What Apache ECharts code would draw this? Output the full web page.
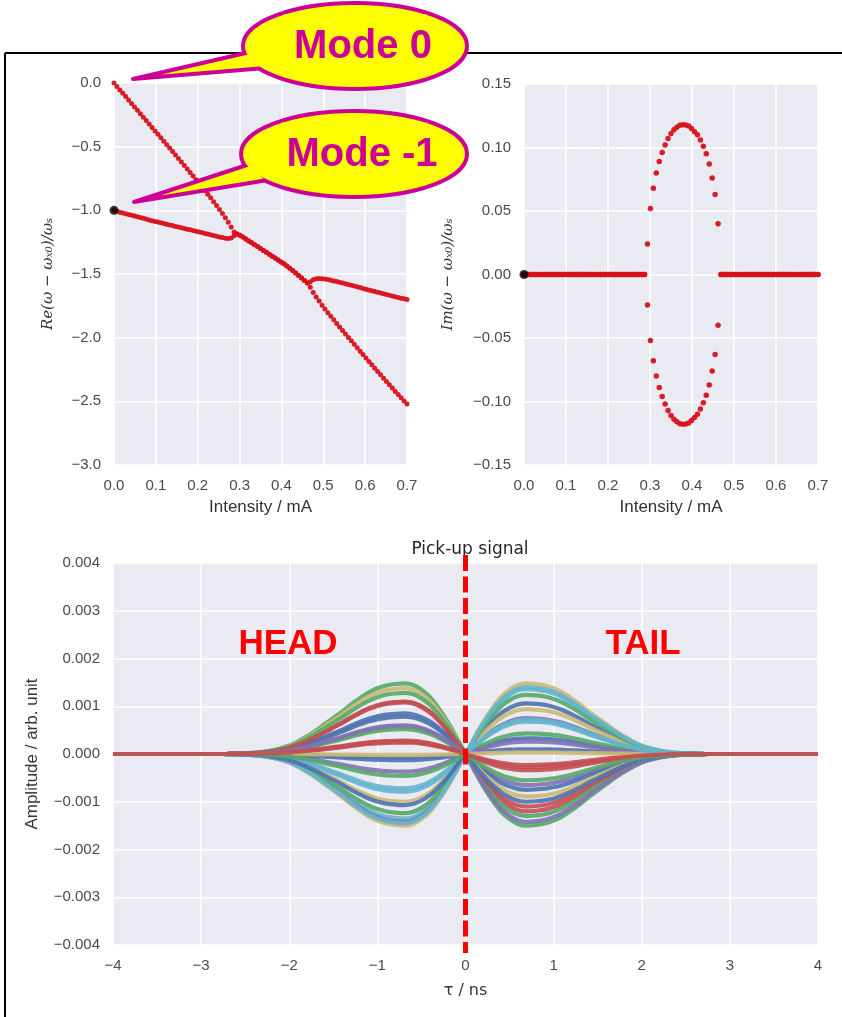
<!DOCTYPE html>
<html>
<head>
<meta charset="utf-8">
<script src="https://cdn.jsdelivr.net/npm/echarts@6/dist/echarts.min.js"></script>
<style>
html,body{margin:0;padding:0;background:#ffffff;}
#chart{width:842px;height:1017px;}
</style>
</head>
<body>
<div id="chart"></div>
<script>
// ---------------- DATA ----------------
const intensity = [0.000,0.007,0.014,0.021,0.028,0.035,0.042,0.049,0.056,0.063,
  0.070,0.077,0.084,0.091,0.098,0.105,0.112,0.119,0.126,0.133,
  0.140,0.147,0.154,0.161,0.168,0.175,0.182,0.189,0.196,0.203,
  0.210,0.217,0.224,0.231,0.238,0.245,0.252,0.259,0.266,0.273,
  0.280,0.287,0.294,0.301,0.308,0.315,0.322,0.329,0.336,0.343,
  0.350,0.357,0.364,0.371,0.378,0.385,0.392,0.399,0.406,0.413,
  0.420,0.427,0.434,0.441,0.448,0.455,0.462,0.469,0.476,0.483,
  0.490,0.497,0.504,0.511,0.518,0.525,0.532,0.539,0.546,0.553,
  0.560,0.567,0.574,0.581,0.588,0.595,0.602,0.609,0.616,0.623,
  0.630,0.637,0.644,0.651,0.658,0.665,0.672,0.679,0.686,0.693,0.700];

// Re((w - wx0)/ws) : mode starting at 0
const reModeA = [0.000,-0.027,-0.054,-0.081,-0.107,-0.134,-0.161,-0.188,-0.214,-0.241,
  -0.268,-0.295,-0.322,-0.349,-0.376,-0.403,-0.430,-0.457,-0.484,-0.511,
  -0.538,-0.566,-0.593,-0.620,-0.648,-0.675,-0.703,-0.731,-0.759,-0.787,
  -0.815,-0.844,-0.873,-0.902,-0.932,-0.962,-0.993,-1.025,-1.058,-1.093,
  -1.130,-1.170,-1.185,-1.195,-1.210,-1.225,-1.240,-1.255,-1.270,-1.285,
  -1.300,-1.315,-1.330,-1.345,-1.360,-1.375,-1.390,-1.405,-1.420,-1.437,
  -1.455,-1.473,-1.492,-1.512,-1.532,-1.552,-1.570,-1.605,-1.645,-1.680,
  -1.713,-1.745,-1.775,-1.804,-1.832,-1.860,-1.888,-1.916,-1.944,-1.971,
  -1.998,-2.025,-2.052,-2.079,-2.106,-2.133,-2.160,-2.187,-2.213,-2.240,
  -2.266,-2.292,-2.318,-2.344,-2.370,-2.396,-2.422,-2.447,-2.472,-2.497,-2.520];

// Re((w - wx0)/ws) : mode starting at -1
const reModeB = [-1.000,-1.008,-1.015,-1.021,-1.027,-1.033,-1.039,-1.045,-1.051,-1.057,
  -1.063,-1.069,-1.075,-1.081,-1.087,-1.092,-1.098,-1.104,-1.109,-1.115,
  -1.120,-1.126,-1.131,-1.137,-1.142,-1.148,-1.153,-1.159,-1.164,-1.170,
  -1.175,-1.181,-1.186,-1.192,-1.198,-1.203,-1.209,-1.214,-1.219,-1.222,
  -1.218,-1.200,-1.185,-1.195,-1.210,-1.225,-1.240,-1.255,-1.270,-1.285,
  -1.300,-1.315,-1.330,-1.345,-1.360,-1.375,-1.390,-1.405,-1.420,-1.437,
  -1.455,-1.473,-1.492,-1.512,-1.532,-1.552,-1.570,-1.560,-1.545,-1.538,
  -1.536,-1.537,-1.540,-1.544,-1.549,-1.554,-1.559,-1.565,-1.571,-1.577,
  -1.583,-1.589,-1.595,-1.601,-1.607,-1.613,-1.619,-1.625,-1.631,-1.637,
  -1.643,-1.649,-1.655,-1.661,-1.667,-1.673,-1.679,-1.685,-1.690,-1.695,-1.700];

// Im((w - wx0)/ws)
const imUpper = [0,0,0,0,0,0,0,0,0,0, 0,0,0,0,0,0,0,0,0,0, 0,0,0,0,0,0,0,0,0,0, 0,0,0,0,0,0,0,0,0,0,
  0,0,0.024,0.052,0.068,0.080,0.089,0.096,0.102,0.107,
  0.111,0.114,0.116,0.1175,0.118,0.1178,0.117,0.115,0.1125,0.110,
  0.106,0.101,0.095,0.087,0.076,0.063,0.040,0,0,0,
  0,0,0,0,0,0,0,0,0,0, 0,0,0,0,0,0,0,0,0,0, 0,0,0,0,0,0,0,0,0,0, 0];
const imLower = [0,0,0,0,0,0,0,0,0,0, 0,0,0,0,0,0,0,0,0,0, 0,0,0,0,0,0,0,0,0,0, 0,0,0,0,0,0,0,0,0,0,
  0,0,-0.024,-0.052,-0.068,-0.080,-0.089,-0.096,-0.102,-0.107,
  -0.111,-0.114,-0.116,-0.1175,-0.118,-0.1178,-0.117,-0.115,-0.1125,-0.110,
  -0.106,-0.101,-0.095,-0.087,-0.076,-0.063,-0.040,0,0,0,
  0,0,0,0,0,0,0,0,0,0, 0,0,0,0,0,0,0,0,0,0, 0,0,0,0,0,0,0,0,0,0, 0];

// Pick-up signal
const tau = [-4.0,-3.9,-3.8,-3.7,-3.6,-3.5,-3.4,-3.3,-3.2,-3.1,
  -3.0,-2.9,-2.8,-2.7,-2.6,-2.5,-2.4,-2.3,-2.2,-2.1,
  -2.0,-1.9,-1.8,-1.7,-1.6,-1.5,-1.4,-1.3,-1.2,-1.1,
  -1.0,-0.9,-0.8,-0.7,-0.6,-0.5,-0.4,-0.3,-0.2,-0.1,
  0.0,0.1,0.2,0.3,0.4,0.5,0.6,0.7,0.8,0.9,
  1.0,1.1,1.2,1.3,1.4,1.5,1.6,1.7,1.8,1.9,
  2.0,2.1,2.2,2.3,2.4,2.5,2.6,2.7,2.8,2.9,
  3.0,3.1,3.2,3.3,3.4,3.5,3.6,3.7,3.8,3.9,4.0];
// relative lobe shape read at |tau| = 0.0, 0.1, ... 4.0 (peak = 1 at 0.7 ns)
const lobeProfile = [0,0.23,0.45,0.64,0.80,0.91,0.98,1.00,0.99,0.97,
  0.93,0.87,0.79,0.70,0.60,0.51,0.42,0.33,0.25,0.18,
  0.12,0.08,0.05,0.03,0.017,0.008,0.004,0.001,0,0,
  0,0,0,0,0,0,0,0,0,0,0];
// amplitude at the head (tau<0) and tail (tau>0) lobe peaks of each trace
const headAmp = [0.00085,0.00148,0.00110,0.00057,0.00138,-0.00135,0.00078,0.00128,0.00026,-0.00037,
  -0.00100,-0.00072,-0.00007,0.00052,0.00108,-0.00142,-0.00150,-0.00079,-0.00013,-0.00124,
  0.00024,0.00060,-0.00002,-0.00145,-0.00107,-0.00046,0.00028];
const tailAmp = [0.00106,-0.00150,-0.00120,0.00075,0.00148,0.00136,0.00033,-0.00130,-0.00034,-0.00065,
  0.00094,0.00068,-0.00075,0.00124,-0.00110,-0.00142,-0.00089,0.00140,0.00010,0.00043,
  -0.00023,0.00026,0.00003,0.00072,-0.00100,-0.00055,-0.00028];

const palette = ['#4C72B0','#55A868','#C44E52','#8172B2','#CCB974','#64B5CD'];

// ---------------- CHART ----------------
const SANS = '"Liberation Sans", Arial, sans-serif';
const DJV = '"DejaVu Sans", sans-serif';
const SERIF = '"DejaVu Serif", serif';
const TICK = '#4a4a4a';
const NAME = '#333333';
const RED = '#d8111b';

function fmt(d){ return function(v){ return (v < 0 ? '\u2212' : '') + Math.abs(v).toFixed(d); }; }

function xAx(gi, min, max, interval, dec, name, nameGap, nameFont, labelFont, labelSize){
  return {
    type:'value', gridIndex: gi, min:min, max:max, interval:interval,
    axisLine:{show:false}, axisTick:{show:false},
    splitLine:{show:true, lineStyle:{color:'#ffffff', width:1.5}},
    axisLabel:{color:TICK, fontFamily:labelFont, fontSize:labelSize, margin:13, formatter: fmt(dec)},
    name:name, nameLocation:'middle', nameGap:nameGap,
    nameTextStyle: nameFont
  };
}
function yAx(gi, min, max, interval, dec, name, nameGap, nameFont, labelFont, labelSize){
  return {
    type:'value', gridIndex: gi, min:min, max:max, interval:interval,
    axisLine:{show:false}, axisTick:{show:false},
    splitLine:{show:true, lineStyle:{color:'#ffffff', width:1.5}},
    axisLabel:{color:TICK, fontFamily:labelFont, fontSize:labelSize, margin:13, formatter: fmt(dec)},
    name:name, nameLocation:'middle', nameGap:nameGap, nameRotate:90,
    nameTextStyle: nameFont
  };
}

const nameSans = {color:NAME, fontFamily:SANS, fontSize:17};
const nameMath = {color:NAME, fontFamily:SERIF, fontStyle:'italic', fontSize:15};

const series = [];
function pairs(xs, ys){ return xs.map((x,i)=>[x, ys[i]]); }
const dotStyle = {color:RED, opacity:0.95};

series.push({type:'scatter', xAxisIndex:0, yAxisIndex:0, data:pairs(intensity, reModeA), symbolSize:5, itemStyle:dotStyle, z:3});
series.push({type:'scatter', xAxisIndex:0, yAxisIndex:0, data:pairs(intensity, reModeB), symbolSize:5, itemStyle:dotStyle, z:3});
series.push({type:'scatter', xAxisIndex:0, yAxisIndex:0, data:[[intensity[0], reModeB[0]]], symbolSize:9, itemStyle:{color:'#000'}, z:4});
series.push({type:'scatter', xAxisIndex:1, yAxisIndex:1, data:pairs(intensity, imUpper), symbolSize:5.5, itemStyle:dotStyle, z:3});
series.push({type:'scatter', xAxisIndex:1, yAxisIndex:1, data:pairs(intensity, imLower), symbolSize:5.5, itemStyle:dotStyle, z:3});
series.push({type:'scatter', xAxisIndex:1, yAxisIndex:1, data:[[intensity[0], imUpper[0]]], symbolSize:9, itemStyle:{color:'#000'}, z:4});

const mid = tau.indexOf(0);
headAmp.forEach((h, i) => {
  const t = tailAmp[i];
  const data = tau.map((x, j) => [x, (x < 0 ? h : t) * lobeProfile[Math.abs(j - mid)]]);
  series.push({
    type:'line', xAxisIndex:2, yAxisIndex:2, data:data, showSymbol:false, smooth:0.3,
    lineStyle:{color:palette[i % palette.length], width:4.2, opacity:0.9},
    itemStyle:{color:palette[i % palette.length]}, z:2
  });
});

const chart = echarts.init(document.getElementById('chart'), null, {renderer:'canvas'});
const option = {
  animation:false,
  backgroundColor:'#ffffff',
  title:{
    text:'Pick-up signal', left:465, top:536, textAlign:'center',
    textStyle:{color:'#262626', fontFamily:DJV, fontSize:17, fontWeight:'normal'}
  },
  grid:[
    {left:114, top:83, width:293, height:382, show:true, backgroundColor:'#EAEAF2', borderWidth:0, containLabel:false, outerBoundsMode:'none'},
    {left:524, top:84, width:294, height:381, show:true, backgroundColor:'#EAEAF2', borderWidth:0, containLabel:false, outerBoundsMode:'none'},
    {left:113, top:563, width:705, height:382, show:true, backgroundColor:'#EAEAF2', borderWidth:0, containLabel:false, outerBoundsMode:'none'}
  ],
  xAxis:[
    xAx(0, 0, 0.7, 0.1, 1, 'Intensity / mA', 34, nameSans, SANS, 15),
    xAx(1, 0, 0.7, 0.1, 1, 'Intensity / mA', 34, nameSans, SANS, 15),
    xAx(2, -4, 4, 1, 0, '\u03C4 / ns', 38, {color:NAME, fontFamily:DJV, fontSize:16}, SANS, 15)
  ],
  yAxis:[
    yAx(0, -3, 0, 0.5, 1, 'Re(\u03C9 \u2212 \u03C9\u2093\u2080)/\u03C9\u209B', 58, nameMath, SANS, 15),
    yAx(1, -0.15, 0.15, 0.05, 2, 'Im(\u03C9 \u2212 \u03C9\u2093\u2080)/\u03C9\u209B', 68, nameMath, SANS, 15),
    yAx(2, -0.004, 0.004, 0.001, 3, 'Amplitude / arb. unit', 72, nameSans, SANS, 15)
  ],
  series: series
};
chart.setOption(option);

// annotations
const MAG = '#cc0099';
const YEL = '#ffff00';
const x0 = chart.convertToPixel({xAxisIndex:2}, 0);
const yTop = chart.convertToPixel({yAxisIndex:2}, 0.004);
const yBot = chart.convertToPixel({yAxisIndex:2}, -0.004);

function callout(cx, cy, rx, ry, poly, label){
  return [
    {type:'ellipse', shape:{cx:cx, cy:cy, rx:rx, ry:ry}, style:{fill:YEL, stroke:MAG, lineWidth:8}, z:100},
    {type:'polygon', shape:{points:poly}, style:{fill:YEL, stroke:MAG, lineWidth:4, lineJoin:'round'}, z:101},
    {type:'ellipse', shape:{cx:cx, cy:cy, rx:rx, ry:ry}, style:{fill:YEL, stroke:null}, z:102},
    {type:'text', x:cx + 8, y:cy + 1, style:{text:label, fill:MAG, font:'bold 40px "Liberation Sans", Arial, sans-serif', textAlign:'center', textVerticalAlign:'middle'}, z:103}
  ];
}

chart.setOption({
  graphic:[
    {type:'line', shape:{x1:5, y1:53, x2:842, y2:53}, style:{stroke:'#000', lineWidth:2}, z:50},
    {type:'line', shape:{x1:5, y1:53, x2:5, y2:1017}, style:{stroke:'#000', lineWidth:2}, z:50},
    ...callout(355, 46, 110, 41, [[250,52],[133,79],[265,68]], 'Mode 0'),
    ...callout(354, 154, 111, 41, [[250,164],[134,202],[268,180]], 'Mode -1'),
    {type:'line', shape:{x1:x0, y1:yTop - 8, x2:x0, y2:yBot + 8}, style:{stroke:'#ff0000', lineWidth:5, lineDash:[16,5.5]}, z:60},
    {type:'text', x:288, y:644, style:{text:'HEAD', fill:'#ff0000', font:'bold 35px "Liberation Sans", Arial, sans-serif', textAlign:'center', textVerticalAlign:'middle'}, z:60},
    {type:'text', x:643, y:644, style:{text:'TAIL', fill:'#ff0000', font:'bold 35px "Liberation Sans", Arial, sans-serif', textAlign:'center', textVerticalAlign:'middle'}, z:60}
  ]
});
</script>
</body>
</html>
